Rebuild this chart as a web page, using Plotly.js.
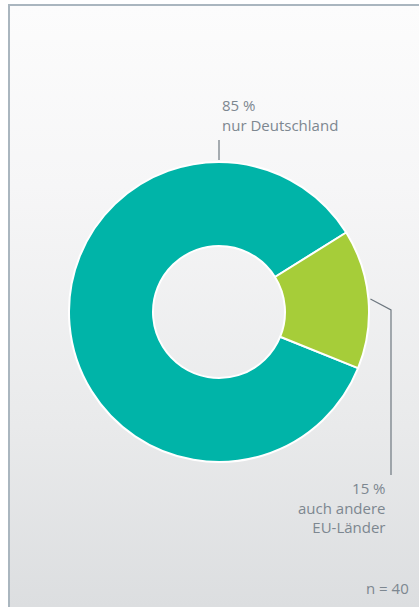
<!DOCTYPE html>
<html>
<head>
<meta charset="utf-8">
<script src="https://cdn.plot.ly/plotly-3.0.1.min.js"></script>
<style>
  html, body { margin: 0; padding: 0; }
  body { width: 419px; height: 607px; overflow: hidden; position: relative;
         background: #ffffff; }
  #bg { position: absolute; left: 8px; top: 4px; width: 411px; height: 603px;
        background: linear-gradient(to bottom, #fcfcfc 0%, #f6f6f7 30%, #e9eaeb 70%, #dcdee0 100%);
        border-top: 2px solid #aab6bf; border-left: 2px solid #aab6bf; box-sizing: border-box; }
  #chart { position: absolute; left: 0; top: 0; width: 419px; height: 607px; }
</style>
</head>
<body>
<div id="bg"></div>
<div id="chart"></div>
<script>
const categories = ["nur Deutschland", "auch andere EU-Länder"];
const shares = [85, 15];
const labelTexts = ["85 %<br>nur Deutschland", "15 %<br>auch andere<br>EU-Länder"];
const sampleNote = "n = 40";

const W = 419, H = 607;
const cx = 219, cy = 312, R = 150;
const rotation = 112;
const textColor = "#7d8790";
const lineColor = "#6e7880";
const font = "'Open Sans', Roboto, sans-serif";
const fs = 15;

// angle (clockwise from 12 o'clock, deg) of the middle of the second slice
const total = shares.reduce((a, b) => a + b, 0);
const startSecond = rotation + shares[0] / total * 360;
const midSecond = (startSecond + shares[1] / total * 180) * Math.PI / 180;
const px = x => x / W, py = y => 1 - y / H;
const ex = cx + R * Math.sin(midSecond), ey = cy - R * Math.cos(midSecond);
const elbowX = 391, elbowY = ey + 11;

const data = [{
  type: "pie",
  labels: categories,
  values: shares,
  sort: false,
  direction: "clockwise",
  rotation: rotation,
  hole: 0.44,
  textinfo: "none",
  hoverinfo: "none",
  marker: { colors: ["#00b4a8", "#a6cd39"], line: { color: "#ffffff", width: 2 } },
  domain: { x: [px(cx - R), px(cx + R)], y: [py(cy + R), py(cy - R)] },
  showlegend: false
}];

const layout = {
  width: W, height: H,
  margin: { l: 0, r: 0, t: 0, b: 0 },
  paper_bgcolor: "rgba(0,0,0,0)",
  plot_bgcolor: "rgba(0,0,0,0)",
  font: { family: font, color: textColor, size: fs },
  shapes: [
    { type: "line", xref: "paper", yref: "paper", x0: px(cx), x1: px(cx), y0: py(140), y1: py(cy - R - 2),
      line: { color: lineColor, width: 1.2 } },
    { type: "path", xref: "paper", yref: "paper",
      path: `M ${px(ex + 2)} ${py(ey)} L ${px(elbowX)} ${py(elbowY)} L ${px(elbowX)} ${py(475)}`,
      line: { color: lineColor, width: 1.2 } }
  ],
  annotations: [
    { xref: "paper", yref: "paper", x: px(220), y: py(93), xanchor: "left", yanchor: "top",
      text: labelTexts[0], showarrow: false, align: "left", font: { size: fs, color: textColor } },
    { xref: "paper", yref: "paper", x: px(388), y: py(476), xanchor: "right", yanchor: "top",
      text: labelTexts[1], showarrow: false, align: "right", font: { size: fs, color: textColor } },
    { xref: "paper", yref: "paper", x: px(411), y: py(588), xanchor: "right", yanchor: "middle",
      text: sampleNote, showarrow: false, align: "right", font: { size: fs, color: textColor } }
  ]
};

Plotly.newPlot("chart", data, layout, { staticPlot: true, displayModeBar: false });
</script>
</body>
</html>
